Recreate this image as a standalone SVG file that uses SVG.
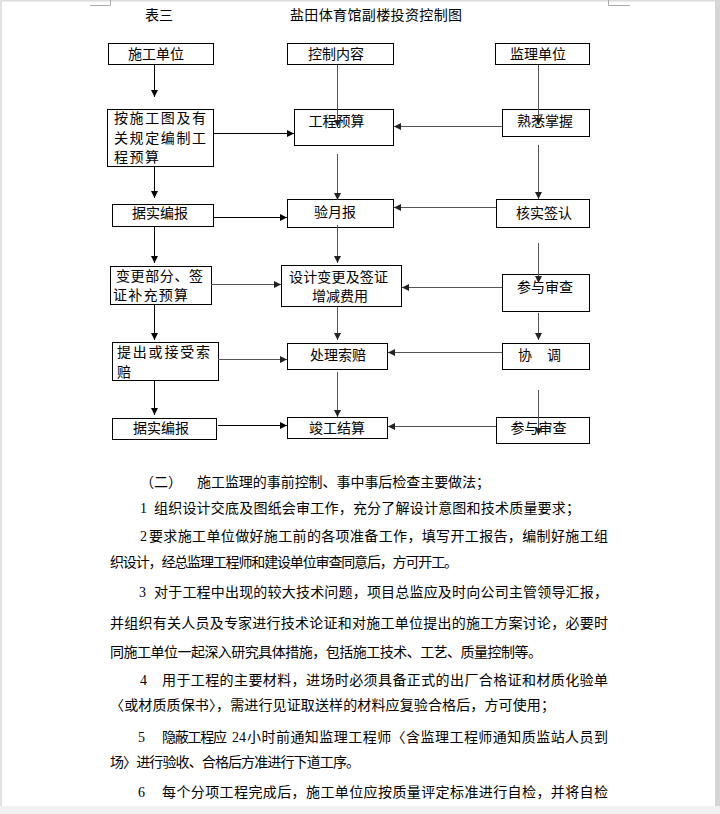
<svg xmlns="http://www.w3.org/2000/svg" width="720" height="814" viewBox="0 0 720 814">
<defs>
<marker id="ah" markerUnits="userSpaceOnUse" markerWidth="8" markerHeight="8" refX="7" refY="3.5" orient="auto">
<path d="M0,0 L7,3.5 L0,7 z" fill="#000"/>
</marker>
<marker id="ahg" markerUnits="userSpaceOnUse" markerWidth="8" markerHeight="8" refX="7" refY="3.5" orient="auto">
<path d="M0,0 L7,3.5 L0,7 z" fill="#222"/>
</marker>
<style>
.b{fill:#fff;stroke:#000;stroke-width:1}
.t{font-family:"Noto Sans CJK SC","Noto Sans",sans-serif;font-size:14px;fill:#000}
.c{text-anchor:middle}
.n{font-family:"Liberation Serif",serif;font-size:14px;fill:#000}
.k{stroke:#000;stroke-width:1;fill:none;marker-end:url(#ah)}
.g{stroke:#555;stroke-width:1;fill:none;marker-end:url(#ahg)}
.m{stroke:#aaa;stroke-width:1;fill:none}
</style>
</defs>
<rect x="0" y="0" width="720" height="814" fill="#fff"/>
<rect x="0" y="0" width="720" height="1.5" fill="#dcdcdc"/>
<rect x="0" y="0" width="2" height="814" fill="#e2e2e2"/>
<rect x="715" y="0" width="5" height="814" fill="#d6d6d6"/>
<rect x="0" y="806" width="720" height="8" fill="#f1f1f1"/>
<path class="m" d="M90,5.5 H110.5 V0 M608.5,0 V5.5 H630"/>

<text class="t" x="145" y="20">表三</text>
<text class="t" x="290" y="20" textLength="172" lengthAdjust="spacing">盐田体育馆副楼投资控制图</text>

<g id="n1"><rect class="b" x="108.5" y="43.5" width="105" height="21"/><text class="t c" x="156" y="59">施工单位</text></g>
<g id="n2"><rect class="b" x="287.5" y="43.5" width="106" height="21"/><text class="t c" x="336" y="59">控制内容</text></g>
<g id="n3"><rect class="b" x="495.5" y="43.5" width="94" height="21"/><text class="t c" x="538" y="59">监理单位</text></g>
<g id="n4"><rect class="b" x="107.5" y="109.5" width="106" height="57"/>
<text class="t" x="114" y="123" textLength="92" lengthAdjust="spacing">按施工图及有</text>
<text class="t" x="114" y="143" textLength="92" lengthAdjust="spacing">关规定编制工</text>
<text class="t" x="114" y="162" textLength="45" lengthAdjust="spacing">程预算</text></g>
<g id="n5"><rect class="b" x="294.5" y="109.5" width="99" height="36"/><text class="t c" x="336.5" y="126">工程预算</text></g>
<g id="n6"><rect class="b" x="502.5" y="109.5" width="87" height="27"/><text class="t c" x="545" y="126">熟悉掌握</text></g>
<g id="n7"><rect class="b" x="112.5" y="204.5" width="101" height="22"/><text class="t c" x="160" y="218">据实编报</text></g>
<g id="n8"><rect class="b" x="287.5" y="199.5" width="106" height="28"/><text class="t c" x="335" y="217">验月报</text></g>
<g id="n9"><rect class="b" x="496.5" y="199.5" width="93" height="28"/><text class="t c" x="544" y="218">核实签认</text></g>
<g id="n10"><rect class="b" x="110.5" y="266.5" width="101" height="38"/>
<text class="t" x="116" y="281" textLength="87" lengthAdjust="spacing">变更部分、签</text>
<text class="t" x="113" y="300" textLength="75" lengthAdjust="spacing">证补充预算</text></g>
<g id="n11"><rect class="b" x="281.5" y="265.5" width="120" height="41"/>
<text class="t" x="289" y="282" textLength="99" lengthAdjust="spacing">设计变更及签证</text>
<text class="t c" x="340" y="301">增减费用</text></g>
<g id="n12"><rect class="b" x="502.5" y="274.5" width="87" height="37"/><text class="t c" x="545" y="292">参与审查</text></g>
<g id="n13"><rect class="b" x="112.5" y="342.5" width="106" height="38"/>
<text class="t" x="117" y="357" textLength="93" lengthAdjust="spacing">提出或接受索</text>
<text class="t" x="117" y="377">赔</text></g>
<g id="n14"><rect class="b" x="287.5" y="343.5" width="100" height="26"/><text class="t c" x="338" y="360">处理索赔</text></g>
<g id="n15"><rect class="b" x="502.5" y="343.5" width="87" height="26"/><text class="t" x="518" y="360">协</text><text class="t" x="547" y="360">调</text></g>
<g id="n16"><rect class="b" x="112.5" y="418.5" width="104" height="21"/><text class="t c" x="161" y="433">据实编报</text></g>
<g id="n17"><rect class="b" x="287.5" y="417.5" width="100" height="21"/><text class="t c" x="337" y="433">竣工结算</text></g>
<g id="n18"><rect class="b" x="496.5" y="417.5" width="93" height="26"/><text class="t c" x="538.5" y="433">参与审查</text></g>

<g id="connectors">
<path class="k" d="M154.5,65 V97"/>
<path class="g" d="M337.5,65 V127"/>
<path class="g" d="M538.5,65 V125"/>
<path class="k" d="M213,133.5 H294"/>
<path class="g" d="M502,126.5 H394"/>
<path class="k" d="M154.5,167 V198"/>
<path class="g" d="M337.5,154 V200"/>
<path class="g" d="M538.5,145 V199"/>
<path class="k" d="M213,217.5 H287"/>
<path class="g" d="M496,207.5 H394"/>
<path class="k" d="M154.5,227 V263"/>
<path class="g" d="M337.5,225 V263"/>
<path class="g" d="M538.5,243 V283"/>
<path class="g" d="M211,284.5 H281"/>
<path class="g" d="M502,287.5 H402"/>
<path class="k" d="M154.5,305 V340"/>
<path class="g" d="M337.5,307 V340"/>
<path class="g" d="M538.5,313 V340"/>
<path class="g" d="M218,359.5 H287"/>
<path class="g" d="M502,352.5 H388"/>
<path class="k" d="M154.5,381 V415"/>
<path class="g" d="M337.5,372 V417"/>
<path class="g" d="M538.5,390 V435"/>
<path class="k" d="M218,425.5 H287"/>
<path class="g" d="M496,426.5 H388"/>
</g>

<text class="t" x="140" y="487">（二）</text>
<text class="t" x="197" y="487" textLength="293" lengthAdjust="spacing">施工监理的事前控制、事中事后检查主要做法；</text>
<text class="n" x="140" y="513">1</text>
<text class="t" x="154" y="513" textLength="426" lengthAdjust="spacing">组织设计交底及图纸会审工作，充分了解设计意图和技术质量要求；</text>
<text class="n" x="140" y="541">2</text>
<text class="t" x="149" y="541" textLength="459" lengthAdjust="spacing">要求施工单位做好施工前的各项准备工作，填写开工报告，编制好施工组</text>
<text class="t" x="110" y="567" textLength="348" lengthAdjust="spacing">织设计，经总监理工程师和建设单位审查同意后，方可开工。</text>
<text class="n" x="139" y="597">3</text>
<text class="t" x="154" y="597" textLength="454" lengthAdjust="spacing">对于工程中出现的较大技术问题，项目总监应及时向公司主管领导汇报，</text>
<text class="t" x="110" y="628" textLength="498" lengthAdjust="spacing">并组织有关人员及专家进行技术论证和对施工单位提出的施工方案讨论，必要时</text>
<text class="t" x="110" y="657" textLength="432" lengthAdjust="spacing">同施工单位一起深入研究具体措施，包括施工技术、工艺、质量控制等。</text>
<text class="n" x="140" y="685">4</text>
<text class="t" x="162" y="685" textLength="446" lengthAdjust="spacing">用于工程的主要材料，进场时必须具备正式的出厂合格证和材质化验单</text>
<text class="t" x="110" y="710" textLength="445" lengthAdjust="spacing">〈或材质质保书〉，需进行见证取送样的材料应复验合格后，方可使用；</text>
<text class="n" x="138" y="742">5</text>
<text class="t" x="162" y="742" textLength="65" lengthAdjust="spacing">隐蔽工程应</text>
<text class="n" x="232" y="742">24</text>
<text class="t" x="247" y="742" textLength="361" lengthAdjust="spacing">小时前通知监理工程师〈含监理工程师通知质监站人员到</text>
<text class="t" x="110" y="767" textLength="250" lengthAdjust="spacing">场〉进行验收、合格后方准进行下道工序。</text>
<text class="n" x="138" y="797">6</text>
<text class="t" x="162" y="797" textLength="446" lengthAdjust="spacing">每个分项工程完成后，施工单位应按质量评定标准进行自检，并将自检</text>
</svg>
